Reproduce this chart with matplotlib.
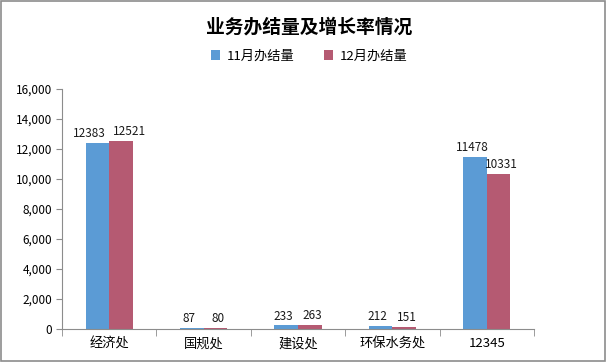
import matplotlib.pyplot as plt
import numpy as np
from matplotlib.ticker import FuncFormatter, FixedLocator

plt.rcParams['font.family'] = ['Noto Sans CJK SC', 'DejaVu Sans']

# data
categories = ['经济处', '国规处', '建设处', '环保水务处', '12345']
nov_values = [12383, 87, 233, 212, 11478]
dec_values = [12521, 80, 263, 151, 10331]
series_names = ['11月办结量', '12月办结量']

blue = '#5b9bd5'
red = '#b55a72'
gray = '#8c8c8c'

fig = plt.figure(figsize=(6.06, 3.62), dpi=100)
# outer border
fig.patches.append(plt.Rectangle((0.002, 0.003), 0.996, 0.994, transform=fig.transFigure,
                                 fill=False, edgecolor=gray, linewidth=1.2))
ax = fig.add_axes([0.1023, 0.0912, 0.7789, 0.663])

x = np.arange(len(categories))
w = 0.25
b1 = ax.bar(x - w / 2, nov_values, w, color=blue, label=series_names[0])
b2 = ax.bar(x + w / 2, dec_values, w, color=red, label=series_names[1])

# value labels; push apart when the two labels of a group sit at similar height
for bars, vals, other, side in ((b1, nov_values, dec_values, -1), (b2, dec_values, nov_values, 1)):
    for rect, v, o in zip(bars, vals, other):
        dx = side * 6 if abs(v - o) < 600 and v > 1000 else side * 2
        ax.annotate(str(v), (rect.get_x() + rect.get_width() / 2, rect.get_height()),
                    xytext=(dx, 2), textcoords='offset points', ha='center', va='bottom',
                    fontsize=8.5, color='#1a1a1a')

ax.set_xlim(-0.5, len(categories) - 0.5)
ax.set_ylim(0, 16000)
ax.set_yticks(np.arange(0, 16001, 2000))
ax.yaxis.set_major_formatter(FuncFormatter(lambda v, p: f'{int(v):,}'))
ax.set_xticks(x)
ax.set_xticklabels(categories, fontsize=9.5)
ax.xaxis.set_minor_locator(FixedLocator(np.arange(-0.5, len(categories), 1)))
ax.tick_params(axis='x', which='major', length=0, pad=6)
ax.tick_params(axis='x', which='minor', length=5, color=gray)
ax.tick_params(axis='y', length=4, color=gray, labelsize=8.5, pad=3)

for s in ('top', 'right'):
    ax.spines[s].set_visible(False)
for s in ('left', 'bottom'):
    ax.spines[s].set_color(gray)

fig.text(0.51, 0.925, '业务办结量及增长率情况', ha='center', va='center',
         fontsize=13.5, fontweight='bold')
fig.legend(handles=[b1, b2], loc='center', bbox_to_anchor=(0.51, 0.845), ncol=2,
           frameon=False, fontsize=9.5, handlelength=0.7, handleheight=0.7,
           columnspacing=2.2, handletextpad=0.5)

fig.savefig('out.png', dpi=100)
